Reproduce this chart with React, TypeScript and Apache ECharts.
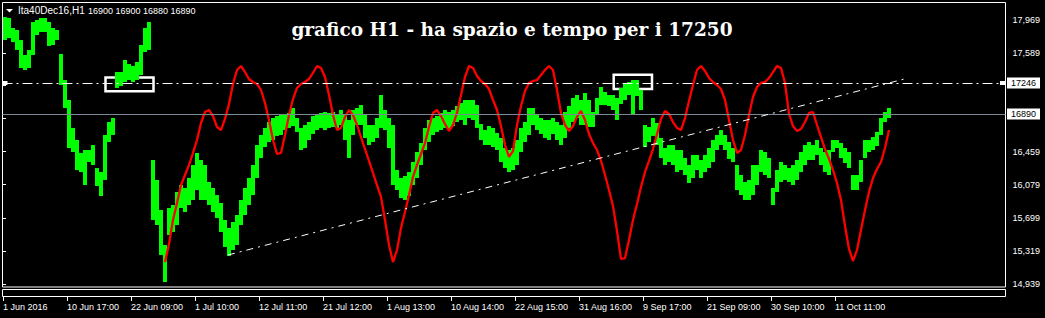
import React, { useEffect, useRef } from 'react';
import * as echarts from 'echarts';

// ---- data ----
// one column = 4 hourly bars; high / low of each column
const barsPerColumn = 4;
const greenHigh = [
  18003, 17992, 17877, 17854, 17739, 17567, 17625, 17946, 17969, 17992,
  17992, 17946, 17877, 17854, 17579, 17280, 17051, 16730, 16592, 16443,
  16477, 16477, 16534, 16270, 16224, 16649, 16798, 16844, 17372, 17372,
  17510, 17464, 17441, 17487, 17682, 17877, 17946, 16362, 16133, 15788,
  15387, 15811, 15846, 15995, 16075, 16041, 16156, 16305, 16443, 16362,
  16305, 16110, 16041, 15960, 15869, 15674, 15582, 15651, 15731, 15903,
  16041, 16156, 16305, 16534, 16649, 16730, 16798, 16844, 16867, 16879,
  16879, 16902, 16959, 16844, 16730, 16764, 16798, 16867, 16890, 16902,
  16913, 16902, 16913, 16879, 16936, 16879, 16821, 16936, 16959, 16993,
  16879, 16764, 16764, 16844, 17108, 16936, 16844, 16764, 16247, 16156,
  16179, 16224, 16339, 16454, 16557, 16730, 16821, 16844, 16867, 16902,
  16936, 16913, 16936, 16982, 17016, 17051, 17051, 17051, 16993, 16775,
  16706, 16752, 16730, 16672, 16615, 16500, 16477, 16500, 16592, 16730,
  16798, 16959, 16959, 16890, 16844, 16821, 16821, 16844, 16798, 16764,
  16913, 16982, 17074, 17108, 17051, 17131, 17051, 16913, 17074, 17200,
  17143, 17108, 17108, 17074, 17189, 17234, 17257, 17280, 17280, 17166,
  16764, 16741, 16844, 16787, 16615, 16500, 16534, 16534, 16477, 16477,
  16385, 16305, 16420, 16420, 16362, 16420, 16500, 16592, 16649, 16706,
  16649, 16569, 16500, 16305, 16190, 16110, 16133, 16305, 16305, 16477,
  16454, 16385, 16041, 16247, 16339, 16305, 16270, 16305, 16362, 16454,
  16534, 16569, 16534, 16592, 16500, 16454, 16477, 16592, 16592, 16557,
  16500, 16454, 16190, 16190, 16362, 16592, 16592, 16626, 16684, 16844,
  16913, 16959,
];
const greenLow = [
  17739, 17762, 17716, 17625, 17418, 17395, 17418, 17567, 17797, 17831,
  17831, 17671, 17682, 17739, 17223, 16959, 16500, 16454, 16247, 16224,
  16075, 16339, 16305, 16064, 15949, 16133, 16569, 16649, 17189, 17211,
  17257, 17280, 17257, 17280, 17338, 17602, 17625, 15674, 15616, 15272,
  14962, 15501, 15536, 15616, 15811, 15765, 15846, 15903, 16018, 15903,
  15903, 15846, 15765, 15697, 15536, 15364, 15260, 15329, 15387, 15616,
  15731, 15846, 15960, 16156, 16385, 16511, 16569, 16592, 16638, 16649,
  16706, 16730, 16752, 16684, 16477, 16500, 16592, 16661, 16706, 16730,
  16706, 16730, 16741, 16730, 16764, 16592, 16385, 16649, 16764, 16764,
  16615, 16534, 16569, 16615, 16730, 16706, 16500, 16075, 16018, 15926,
  15903, 15949, 16075, 16156, 16305, 16477, 16569, 16649, 16684, 16706,
  16730, 16706, 16752, 16798, 16821, 16764, 16844, 16821, 16730, 16592,
  16534, 16534, 16511, 16477, 16339, 16270, 16224, 16247, 16305, 16454,
  16569, 16649, 16764, 16706, 16661, 16615, 16592, 16661, 16592, 16534,
  16615, 16730, 16798, 16844, 16764, 16764, 16741, 16741, 16879, 16993,
  16993, 16982, 16936, 16821, 17005, 17051, 17108, 16879, 17097, 16936,
  16511, 16569, 16638, 16534, 16385, 16305, 16339, 16305, 16224, 16247,
  16190, 16098, 16156, 16247, 16156, 16224, 16270, 16339, 16477, 16534,
  16477, 16374, 16339, 16018, 15960, 15903, 15903, 15960, 16075, 16224,
  16190, 16156, 15846, 15995, 16110, 16133, 16110, 16075, 16133, 16224,
  16305, 16362, 16362, 16420, 16305, 16224, 16190, 16454, 16500, 16385,
  16328, 16270, 16018, 16018, 16110, 16385, 16454, 16477, 16523, 16649,
  16798, 16844,
];
// red cycle indicator, one value per column, starting at column 40
const redStartColumn = 40;
const redValues = [
  15191, 15398, 15674, 15869, 16075, 16190, 16305, 16443, 16592, 16787,
  16913, 16936, 16867, 16741, 16706, 16833, 17005, 17234, 17395, 17441,
  17372, 17292, 17257, 17234, 17166, 17016, 16821, 16592, 16431, 16443,
  16649, 16879, 17062, 17189, 17234, 17257, 17292, 17361, 17441, 17418,
  17315, 17108, 16879, 16706, 16730, 16856, 16936, 16879, 16764, 16626,
  16488, 16351, 16213, 16075, 15938, 15674, 15387, 15191, 15329, 15582,
  15765, 15960, 16167, 16305, 16431, 16557, 16741, 16902, 16936, 16867,
  16775, 16695, 16764, 16902, 17108, 17315, 17441, 17418, 17326, 17269,
  17234, 17177, 17051, 16936, 16752, 16534, 16397, 16465, 16764, 16982,
  17154, 17246, 17269, 17280, 17338, 17395, 17441, 17395, 17166, 16902,
  16764, 16695, 16752, 16856, 16925, 16821, 16661, 16557, 16477, 16351,
  16190, 16018, 15834, 15547, 15226, 15237, 15444, 15674, 15857, 16052,
  16225, 16351, 16488, 16661, 16833, 16925, 16890, 16798, 16730, 16706,
  16844, 17039, 17223, 17395, 17441, 17384, 17303, 17257, 17223, 17177,
  17051, 16821, 16592, 16443, 16477, 16649, 16879, 17085, 17200, 17246,
  17257, 17303, 17372, 17441, 17418, 17246, 16890, 16752, 16695, 16718,
  16798, 16902, 16913, 16764, 16626, 16488, 16374, 16247, 16098, 15903,
  15605, 15341, 15203, 15329, 15559, 15788, 15995, 16156, 16259, 16339,
  16500, 16706,
];
const timeLabels = [
  '1 Jun 2016', '10 Jun 17:00', '22 Jun 09:00', '1 Jul 10:00', '12 Jul 11:00',
  '21 Jul 12:00', '1 Aug 13:00', '10 Aug 14:00', '22 Aug 15:00', '31 Aug 16:00',
  '9 Sep 17:00', '21 Sep 09:00', '30 Sep 10:00', '11 Oct 11:00',
];
const barsPerTimeLabel = 64;
const priceTicks = [14939, 15319, 15699, 16079, 16459, 16839, 17219, 17589, 17969];
const lastPrice = 16890;
const levelPrice = 17246;
const trendStart = [225, 15272];
const trendEnd = [904, 17300];
const boxes = [
  [102.5, 17310, 150.5, 17152],
  [610.7, 17341, 649, 17177],
];
const levelHandles = [2, 999.5];
const titleText = 'grafico H1 - ha spazio e tempo per i 17250';
const symbolText = 'Ita40Dec16,H1';
const ohlcText = '16900 16900 16880 16890';

const SANS = 'Liberation Sans';

export default function App() {
  const ref = useRef<HTMLDivElement>(null);
  useEffect(() => {
    document.body.style.margin = '0';
    document.body.style.background = '#000';
    const chart = echarts.init(ref.current!, null, { renderer: 'svg' });
    const columns = greenHigh.map((h, c) => [c * barsPerColumn, h, greenLow[c]]);
    const red = redValues.map((v, i) => [(redStartColumn + i) * barsPerColumn + barsPerColumn / 2, v]);
    const timeTicks = timeLabels.map((_, i) => i * barsPerTimeLabel);
    // labels lying under the price boxes are covered in the reference
    const visiblePriceLabels = priceTicks.filter(
      (v) => Math.abs(v - lastPrice) > 80 && Math.abs(v - levelPrice) > 80,
    );
    const boxLabel = (txt: string) => ({
      show: true,
      position: 'end',
      formatter: txt,
      color: '#000',
      backgroundColor: '#fff',
      fontSize: 9,
      fontFamily: SANS,
      padding: [1, 4, 1, 4],
      distance: 1.5,
    });
    chart.setOption({
      animation: false,
      backgroundColor: '#000',
      grid: {
        left: 2.5, top: 2.5, width: 1003, height: 284.5,
        show: true, borderColor: '#fff', borderWidth: 1, backgroundColor: 'transparent',
      },
      xAxis: {
        type: 'value', min: -0.5, max: 1002.5, offset: 10,
        axisLine: { show: false },
        splitLine: { show: false },
        axisTick: { show: true, customValues: timeTicks, length: 4, lineStyle: { color: '#fff', width: 1 } },
        axisLabel: {
          customValues: timeTicks,
          formatter: (v: number) => timeLabels[Math.round(v / barsPerTimeLabel)] ?? '',
          color: '#fff', fontSize: 9, fontFamily: SANS, align: 'left', margin: 5,
        },
      },
      yAxis: {
        type: 'value', position: 'right', min: 14904.6, max: 18169.8, scale: true,
        axisLine: { show: false },
        splitLine: { show: false },
        axisTick: { show: true, customValues: priceTicks, length: 3, lineStyle: { color: '#fff', width: 1 } },
        axisLabel: { customValues: visiblePriceLabels, color: '#fff', fontSize: 9, fontFamily: SANS, margin: 7 },
      },
      series: [
        {
          type: 'custom',
          data: columns,
          encode: { x: 0, y: [1, 2] },
          z: 2,
          renderItem: (_p: any, api: any) => {
            const x0 = api.value(0);
            const p1 = api.coord([x0, api.value(1)]);
            const p2 = api.coord([x0 + barsPerColumn, api.value(2)]);
            return {
              type: 'rect',
              shape: { x: p1[0], y: p1[1], width: p2[0] - p1[0], height: Math.max(1, p2[1] - p1[1]) },
              style: { fill: '#00ff00' },
            };
          },
        },
        {
          type: 'line',
          data: red,
          showSymbol: false,
          z: 3,
          lineStyle: { color: '#ff0000', width: 2.3 },
          markLine: {
            silent: true,
            symbol: 'none',
            data: [
              { yAxis: lastPrice, lineStyle: { color: '#7b8794', width: 1, type: 'solid' }, label: boxLabel(String(lastPrice)) },
              { yAxis: levelPrice, lineStyle: { color: '#fff', width: 1, type: [10, 4, 2, 4] }, label: boxLabel(String(levelPrice)) },
              [
                { coord: trendStart, lineStyle: { color: '#fff', width: 1, type: [7, 5, 2, 5] }, label: { show: false } },
                { coord: trendEnd },
              ],
            ],
          },
          markArea: {
            silent: true,
            itemStyle: { color: 'rgba(0,0,0,0)', borderColor: '#fff', borderWidth: 2.5 },
            label: { show: false },
            data: boxes.map((b) => [{ coord: [b[0], b[1]] }, { coord: [b[2], b[3]] }]),
          },
          markPoint: {
            silent: true,
            symbol: 'rect',
            symbolSize: [5, 4],
            itemStyle: { color: '#fff' },
            label: { show: false },
            data: levelHandles.map((x) => ({ coord: [x, levelPrice] })),
          },
        },
      ],
      graphic: [
        { type: 'polygon', shape: { points: [[6, 9], [13, 9], [9.5, 12.5]] }, style: { fill: '#fff' } },
        {
          type: 'text', x: 18, y: 10.5,
          style: { text: symbolText, fill: '#fff', fontSize: 10, fontFamily: SANS, verticalAlign: 'middle' },
        },
        {
          type: 'text', x: 88, y: 10.5,
          style: { text: ohlcText, fill: '#fff', fontSize: 9, fontFamily: SANS, verticalAlign: 'middle' },
        },
        {
          type: 'text', x: 512, y: 29,
          style: {
            text: titleText, fill: '#fff', fontSize: 18.5, fontWeight: 'bold', fontFamily: 'DejaVu Serif',
            align: 'center', verticalAlign: 'middle',
          },
        },
        { type: 'rect', shape: { x: 2.5, y: 289.5, width: 1003, height: 7 }, style: { fill: 'none', stroke: '#fff', lineWidth: 1 } },
      ],
    });
    return () => chart.dispose();
  }, []);
  return <div ref={ref} style={{ position: 'fixed', left: 0, top: 0, width: 1045, height: 318 }} />;
}
